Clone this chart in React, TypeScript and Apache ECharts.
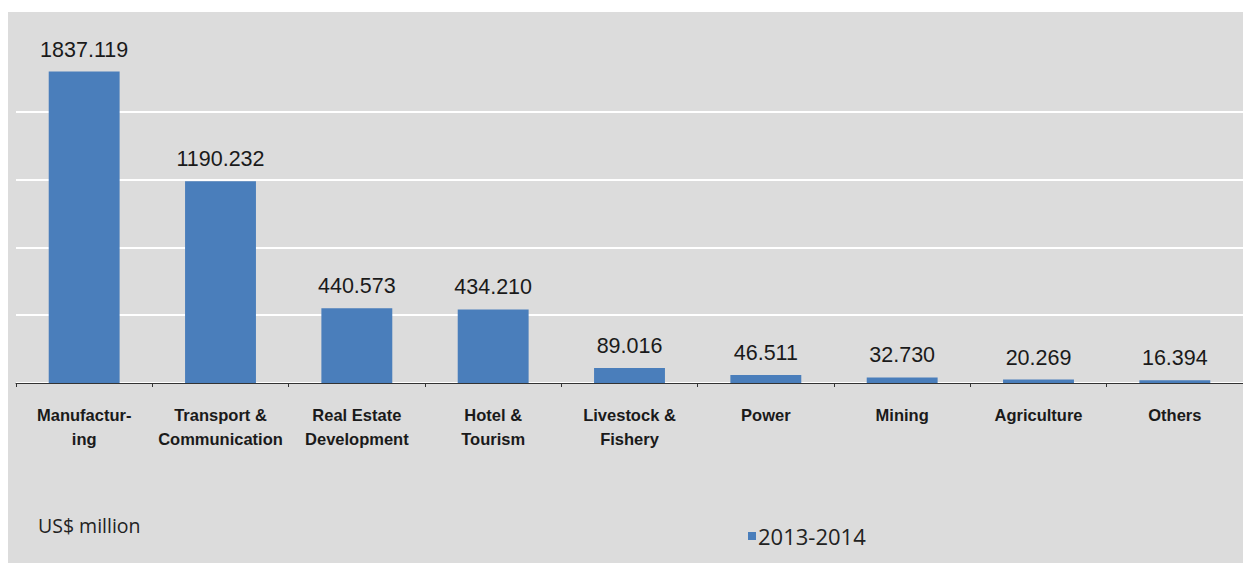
import React, { useEffect, useRef } from "react";
import * as echarts from "echarts";

const categories = [
  "Manufactur-\ning",
  "Transport &\nCommunication",
  "Real Estate\nDevelopment",
  "Hotel &\nTourism",
  "Livestock &\nFishery",
  "Power",
  "Mining",
  "Agriculture",
  "Others",
];
const values2013_2014 = [1837.119, 1190.232, 440.573, 434.21, 89.016, 46.511, 32.73, 20.269, 16.394];
const seriesName = "2013-2014";
const unitLabel = "US$ million";

export default function App() {
  const ref = useRef<HTMLDivElement>(null);
  useEffect(() => {
    if (!ref.current) return;
    const chart = echarts.init(ref.current, undefined, { renderer: "svg" });
    chart.setOption({
      animation: false,
      backgroundColor: "#ffffff",
      graphic: [
        {
          type: "rect",
          z: -10,
          silent: true,
          shape: { x: 8, y: 12, width: 1300, height: 600 },
          style: { fill: "#dcdcdc" },
        },
        {
          type: "text",
          left: 38,
          top: 515,
          style: {
            text: unitLabel,
            fontFamily: "Open Sans",
            fontSize: 19.5,
            fill: "#222222",
          },
        },
      ],
      legend: {
        data: [seriesName],
        left: 743,
        top: 520,
        itemWidth: 8,
        itemHeight: 8,
        itemGap: 4,
        icon: "rect",
        textStyle: { fontFamily: "Open Sans", fontSize: 22, color: "#222222", padding: [0, 0, 0, -3] },
      },
      grid: { left: 16, right: -4, top: 44, bottom: 180 },
      xAxis: {
        type: "category",
        data: categories,
        axisLine: { lineStyle: { color: "#333333", width: 1 } },
        axisTick: { show: true, length: 4, lineStyle: { color: "#333333" } },
        axisLabel: {
          interval: 0,
          margin: 20,
          fontFamily: "Liberation Sans",
          fontWeight: "bold",
          fontSize: 16.5,
          lineHeight: 24,
          color: "#1a1a1a",
        },
      },
      yAxis: {
        type: "value",
        min: 0,
        max: 2000,
        interval: 400,
        axisLabel: { show: false },
        axisLine: { show: false },
        axisTick: { show: false },
        splitLine: { show: true, showMaxLine: false, lineStyle: { color: "#ffffff", width: 2 } },
      },
      series: [
        {
          name: seriesName,
          type: "bar",
          data: values2013_2014,
          barWidth: "52%",
          itemStyle: { color: "#4a7ebb" },
          label: {
            show: true,
            position: "top",
            distance: 11,
            fontFamily: "Liberation Sans",
            fontSize: 21.5,
            color: "#1a1a1a",
            formatter: (p: any) => Number(p.value).toFixed(3),
          },
        },
      ],
    });
    return () => chart.dispose();
  }, []);
  return (
    <div
      ref={ref}
      style={{ position: "absolute", left: 0, top: 0, width: 1243, height: 563 }}
    />
  );
}
